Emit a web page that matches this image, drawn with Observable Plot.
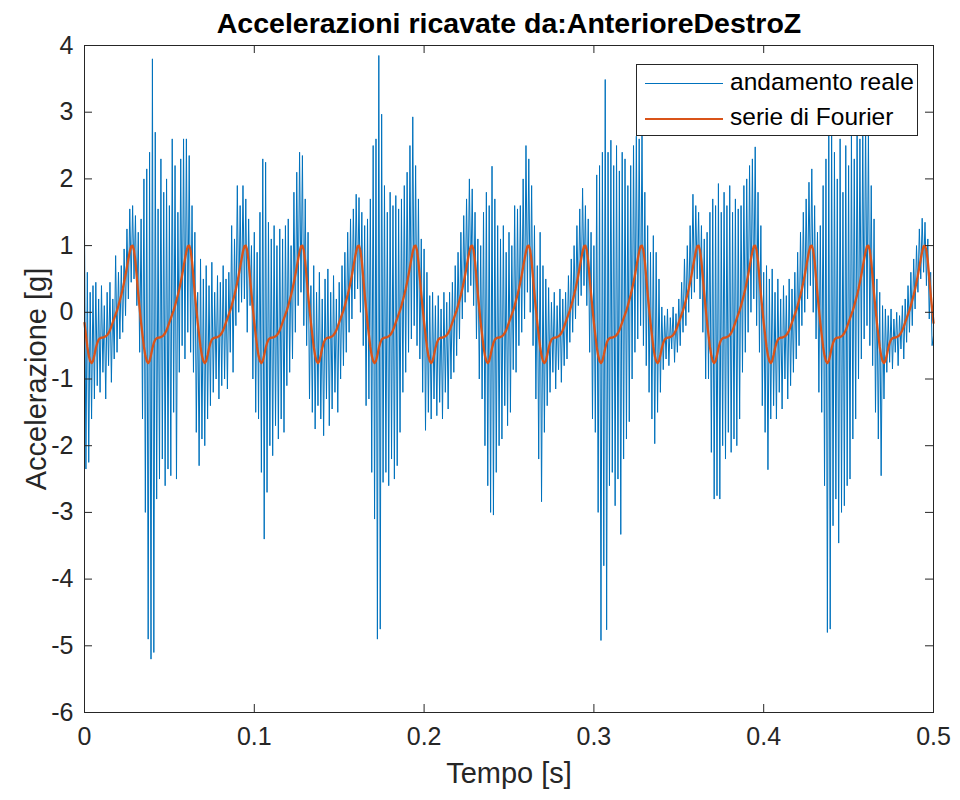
<!DOCTYPE html>
<html>
<head>
<meta charset="utf-8">
<script src="https://cdn.jsdelivr.net/npm/d3@7"></script>
<script src="https://cdn.jsdelivr.net/npm/@observablehq/plot@0.6"></script>
<style>
  html, body { margin: 0; padding: 0; background: #fff; }
  #wrap { position: relative; width: 960px; height: 800px; font-family: "Liberation Sans", Arial, Helvetica, sans-serif; }
  #legend { position: absolute; left: 636px; top: 64px; width: 282px; height: 72px; box-sizing: border-box;
            background: #fff; border: 1px solid #262626; color: #000; font-size: 24.5px; }
  .row { position: absolute; left: 0; height: 30px; width: 100%; }
  .sw { position: absolute; left: 8px; width: 78px; top: 50%; }
  .lab { position: absolute; left: 93px; top: 50%; transform: translateY(-52%); white-space: nowrap; line-height: 1; }
</style>
</head>
<body>
<div id="wrap">
  <div id="chart"></div>
  <div id="legend"></div>
</div>
<script>
// ---- Data ----
const title = "Accelerazioni ricavate da:AnterioreDestroZ";
const xLabel = "Tempo [s]";
const yLabel = "Accelerazione [g]";
const seriesNames = ["andamento reale", "serie di Fourier"];
const seriesColors = ["#0072BD", "#D95319"];
const xTicks = [0, 0.1, 0.2, 0.3, 0.4, 0.5];
const yTicks = [-6, -5, -4, -3, -2, -1, 0, 1, 2, 3, 4];
const sampleRate = 1200; // samples per second

// measured signal ("andamento reale"), one row per 1/30 s
const realValues = [
  1.25,-2.35,0.6,-2.25,0.3,-1.6,0.4,-1.3,0.45,-1.1,0.2,-1.2,0.4,-0.9,0.1,-1.3,0.3,-0.8,0.45,-1.05,0.2,-0.7,0.85,-0.6,0.6,-0.4,0.7,-0.3,0.95,-0.05,1.25,0.2,1.55,0.45,1.6,0.5,1.45,0.1,1.2,-0.6,
  1.4,-1.6,2.0,-3.0,2.15,-4.9,2.4,-5.2,3.8,-5.1,2.7,-2.8,1.55,-2.5,2.3,-2.2,1.8,-2.6,2.0,-2.35,1.6,-2.45,2.6,-1.5,2.2,-2.5,1.5,-0.9,2.3,-0.5,2.6,-0.7,2.6,-0.3,2.35,-0.6,1.6,-0.9,1.2,-1.8,
  0.3,-2.3,0.8,-1.9,0.5,-2.0,0.7,-1.6,0.4,-1.4,0.75,-1.2,0.3,-1.0,0.55,-1.3,0.45,-1.1,0.7,-1.0,0.5,-1.15,0.6,-0.6,1.3,-0.9,1.1,-0.2,1.9,0.0,1.6,0.15,1.9,0.2,1.7,-0.3,1.4,0.1,1.0,-1.0,
  1.2,-1.5,0.9,-1.6,1.5,-2.4,2.3,-3.4,2.25,-2.7,1.35,-2.0,1.1,-2.15,1.3,-1.7,1.0,-1.9,1.25,-1.6,1.1,-1.8,1.3,-1.1,1.4,-0.9,1.0,-0.7,1.8,-0.3,2.1,0.1,2.4,0.3,2.35,-0.2,1.7,-0.5,1.2,-1.3,
  0.4,-1.5,0.7,-1.75,0.3,-1.4,0.6,-1.6,0.2,-1.85,0.5,-1.3,0.65,-1.7,0.3,-1.45,0.55,-1.2,0.2,-1.5,0.45,-1.0,0.7,-0.8,0.9,-0.6,1.2,-0.3,1.4,-0.1,1.55,0.2,1.77,0.35,1.72,0.0,1.5,-0.5,1.3,-1.4,
  1.4,-1.3,1.7,-2.4,2.5,-3.1,2.6,-4.9,3.85,-4.75,2.97,-2.55,1.9,-2.4,1.5,-2.6,1.8,-2.2,1.6,-2.5,1.75,-2.3,1.55,-1.8,1.7,-1.2,1.9,-0.9,2.1,-0.6,2.5,-0.4,2.93,-0.2,2.2,-0.5,1.7,-0.7,1.1,-1.2,
  0.95,-1.77,0.6,-1.5,0.25,-1.6,0.3,-1.3,0.1,-1.55,0.25,-1.35,0.05,-1.6,0.3,-1.2,0.15,-1.45,0.3,-1.0,0.45,-0.9,0.7,-0.65,0.9,-0.4,1.2,-0.1,1.45,0.15,1.7,0.3,2.0,0.4,1.85,0.1,1.5,-0.4,1.1,-1.0,
  1.0,-1.3,1.5,-2.0,1.8,-2.6,1.6,-3.0,2.19,-3.04,1.7,-2.4,1.3,-2.0,1.1,-1.9,1.3,-1.4,0.9,-1.7,1.2,-1.5,1.0,-0.86,1.6,-0.9,1.55,-0.5,1.6,-0.3,2.0,-0.1,2.5,0.3,2.3,0.0,1.9,-0.5,1.3,-1.3,
  0.7,-2.2,1.2,-2.84,0.7,-1.8,0.5,-1.4,0.37,-1.2,0.15,-0.9,0.3,-1.15,0.1,-0.86,0.35,-1.05,0.2,-0.8,0.3,-0.7,0.55,-0.45,0.8,-0.3,1.0,-0.1,1.3,0.1,1.55,0.25,1.86,0.4,1.6,0.1,1.4,-0.6,1.2,-1.6,
  1.0,-1.8,2.06,-3.0,2.2,-4.92,2.4,-3.8,3.49,-4.76,2.4,-2.6,2.58,-2.4,2.2,-2.9,2.5,-2.5,2.12,-3.33,2.4,-2.2,2.3,-1.9,1.9,-1.64,2.2,-1.0,2.5,-0.6,2.64,-0.4,2.6,-0.2,2.77,-0.5,1.8,-0.8,1.3,-1.2,
  0.9,-1.6,1.15,-1.97,0.9,-1.5,0.5,-1.2,0.08,-0.86,-0.05,-0.7,0.05,-0.8,-0.08,-0.55,0.08,-0.75,-0.02,-0.6,0.2,-0.5,0.45,-0.3,0.8,-0.2,1.0,0.0,1.3,0.2,1.77,0.3,1.6,0.5,1.5,0.2,1.3,-0.3,1.1,-1.0,
  1.2,-1.0,1.5,-2.1,1.7,-2.8,1.6,-2.75,1.93,-2.8,1.5,-2.0,1.8,-2.2,1.6,-1.8,1.9,-2.1,1.5,-1.9,1.7,-2.0,1.55,-1.6,1.6,-0.9,1.9,-0.6,2.0,-0.3,2.2,0.0,2.3,0.2,2.48,-0.2,1.8,-0.6,1.3,-1.4,
  0.6,-1.8,0.7,-2.36,0.5,-1.6,0.65,-1.4,0.3,-1.6,0.5,-1.2,0.2,-1.45,0.4,-1.0,0.25,-1.3,0.5,-1.1,0.35,-0.9,0.6,-0.7,0.9,-0.5,1.2,-0.2,1.5,0.0,1.7,0.2,1.95,0.4,2.15,0.0,1.6,-0.4,1.2,-1.2,
  1.3,-1.5,1.9,-2.6,2.3,-4.8,2.75,-4.75,2.9,-3.2,2.4,-2.8,2.0,-3.46,2.6,-3.0,1.8,-2.9,2.5,-2.6,2.2,-2.5,2.7,-1.9,2.3,-1.6,2.8,-1.0,2.6,-0.7,2.75,-0.4,2.9,-0.2,2.7,-0.5,1.9,-0.8,1.4,-1.5,
  0.5,-1.9,0.3,-2.45,0.1,-1.3,0.05,-0.9,-0.05,-0.75,0.05,-0.85,-0.1,-0.6,0.0,-0.8,-0.05,-0.55,0.1,-0.7,0.2,-0.45,0.4,-0.3,0.6,-0.2,0.8,0.05,1.0,0.3,1.25,0.5,1.41,0.6,1.35,0.4,1.1,-0.1,0.6,-0.5,
  -0.35
];

// Fourier series approximation ("serie di Fourier"), same sampling
const fourierValues = [
  -0.16,-0.34,-0.52,-0.65,-0.73,-0.76,-0.73,-0.64,-0.54,-0.46,-0.41,-0.39,-0.38,-0.38,-0.37,-0.36,-0.34,-0.31,-0.27,-0.21,-0.15,-0.09,-0.03,0.03,0.1,0.18,0.26,0.35,0.45,0.56,0.68,0.8,0.91,0.99,1.0,0.93,0.76,0.52,0.27,0.06,
  -0.16,-0.34,-0.52,-0.65,-0.73,-0.76,-0.73,-0.64,-0.54,-0.46,-0.41,-0.39,-0.38,-0.38,-0.37,-0.36,-0.34,-0.31,-0.27,-0.21,-0.15,-0.09,-0.03,0.03,0.1,0.18,0.26,0.35,0.45,0.56,0.68,0.8,0.91,0.99,1.0,0.93,0.76,0.52,0.27,0.06,
  -0.16,-0.34,-0.52,-0.65,-0.73,-0.76,-0.73,-0.64,-0.54,-0.46,-0.41,-0.39,-0.38,-0.38,-0.37,-0.36,-0.34,-0.31,-0.27,-0.21,-0.15,-0.09,-0.03,0.03,0.1,0.18,0.26,0.35,0.45,0.56,0.68,0.8,0.91,0.99,1.0,0.93,0.76,0.52,0.27,0.06,
  -0.16,-0.34,-0.52,-0.65,-0.73,-0.76,-0.73,-0.64,-0.54,-0.46,-0.41,-0.39,-0.38,-0.38,-0.37,-0.36,-0.34,-0.31,-0.27,-0.21,-0.15,-0.09,-0.03,0.03,0.1,0.18,0.26,0.35,0.45,0.56,0.68,0.8,0.91,0.99,1.0,0.93,0.76,0.52,0.27,0.06,
  -0.16,-0.34,-0.52,-0.65,-0.73,-0.76,-0.73,-0.64,-0.54,-0.46,-0.41,-0.39,-0.38,-0.38,-0.37,-0.36,-0.34,-0.31,-0.27,-0.21,-0.15,-0.09,-0.03,0.03,0.1,0.18,0.26,0.35,0.45,0.56,0.68,0.8,0.91,0.99,1.0,0.93,0.76,0.52,0.27,0.06,
  -0.16,-0.34,-0.52,-0.65,-0.73,-0.76,-0.73,-0.64,-0.54,-0.46,-0.41,-0.39,-0.38,-0.38,-0.37,-0.36,-0.34,-0.31,-0.27,-0.21,-0.15,-0.09,-0.03,0.03,0.1,0.18,0.26,0.35,0.45,0.56,0.68,0.8,0.91,0.99,1.0,0.93,0.76,0.52,0.27,0.06,
  -0.16,-0.34,-0.52,-0.65,-0.73,-0.76,-0.73,-0.64,-0.54,-0.46,-0.41,-0.39,-0.38,-0.38,-0.37,-0.36,-0.34,-0.31,-0.27,-0.21,-0.15,-0.09,-0.03,0.03,0.1,0.18,0.26,0.35,0.45,0.56,0.68,0.8,0.91,0.99,1.0,0.93,0.76,0.52,0.27,0.06,
  -0.16,-0.34,-0.52,-0.65,-0.73,-0.76,-0.73,-0.64,-0.54,-0.46,-0.41,-0.39,-0.38,-0.38,-0.37,-0.36,-0.34,-0.31,-0.27,-0.21,-0.15,-0.09,-0.03,0.03,0.1,0.18,0.26,0.35,0.45,0.56,0.68,0.8,0.91,0.99,1.0,0.93,0.76,0.52,0.27,0.06,
  -0.16,-0.34,-0.52,-0.65,-0.73,-0.76,-0.73,-0.64,-0.54,-0.46,-0.41,-0.39,-0.38,-0.38,-0.37,-0.36,-0.34,-0.31,-0.27,-0.21,-0.15,-0.09,-0.03,0.03,0.1,0.18,0.26,0.35,0.45,0.56,0.68,0.8,0.91,0.99,1.0,0.93,0.76,0.52,0.27,0.06,
  -0.16,-0.34,-0.52,-0.65,-0.73,-0.76,-0.73,-0.64,-0.54,-0.46,-0.41,-0.39,-0.38,-0.38,-0.37,-0.36,-0.34,-0.31,-0.27,-0.21,-0.15,-0.09,-0.03,0.03,0.1,0.18,0.26,0.35,0.45,0.56,0.68,0.8,0.91,0.99,1.0,0.93,0.76,0.52,0.27,0.06,
  -0.16,-0.34,-0.52,-0.65,-0.73,-0.76,-0.73,-0.64,-0.54,-0.46,-0.41,-0.39,-0.38,-0.38,-0.37,-0.36,-0.34,-0.31,-0.27,-0.21,-0.15,-0.09,-0.03,0.03,0.1,0.18,0.26,0.35,0.45,0.56,0.68,0.8,0.91,0.99,1.0,0.93,0.76,0.52,0.27,0.06,
  -0.16,-0.34,-0.52,-0.65,-0.73,-0.76,-0.73,-0.64,-0.54,-0.46,-0.41,-0.39,-0.38,-0.38,-0.37,-0.36,-0.34,-0.31,-0.27,-0.21,-0.15,-0.09,-0.03,0.03,0.1,0.18,0.26,0.35,0.45,0.56,0.68,0.8,0.91,0.99,1.0,0.93,0.76,0.52,0.27,0.06,
  -0.16,-0.34,-0.52,-0.65,-0.73,-0.76,-0.73,-0.64,-0.54,-0.46,-0.41,-0.39,-0.38,-0.38,-0.37,-0.36,-0.34,-0.31,-0.27,-0.21,-0.15,-0.09,-0.03,0.03,0.1,0.18,0.26,0.35,0.45,0.56,0.68,0.8,0.91,0.99,1.0,0.93,0.76,0.52,0.27,0.06,
  -0.16,-0.34,-0.52,-0.65,-0.73,-0.76,-0.73,-0.64,-0.54,-0.46,-0.41,-0.39,-0.38,-0.38,-0.37,-0.36,-0.34,-0.31,-0.27,-0.21,-0.15,-0.09,-0.03,0.03,0.1,0.18,0.26,0.35,0.45,0.56,0.68,0.8,0.91,0.99,1.0,0.93,0.76,0.52,0.27,0.06,
  -0.16,-0.34,-0.52,-0.65,-0.73,-0.76,-0.73,-0.64,-0.54,-0.46,-0.41,-0.39,-0.38,-0.38,-0.37,-0.36,-0.34,-0.31,-0.27,-0.21,-0.15,-0.09,-0.03,0.03,0.1,0.18,0.26,0.35,0.45,0.56,0.68,0.8,0.91,0.99,1.0,0.93,0.76,0.52,0.27,0.06,
  -0.16
];

// ---- Build tables ----
const realData = realValues.map((v, i) => ({t: i / sampleRate, v}));
const fourierData = fourierValues.map((v, i) => ({t: i / sampleRate, v}));

const W = 960, H = 800;
const mL = 84, mR = 27, mT = 45, mB = 88;
const plotW = W - mL - mR, plotH = H - mT - mB;
const tickLen = 8;
const ink = "#262626";
const fmt = d => String(d);

const chart = Plot.plot({
  width: W, height: H,
  marginLeft: mL, marginRight: mR, marginTop: mT, marginBottom: mB,
  style: {fontFamily: '"Liberation Sans", Arial, Helvetica, sans-serif', background: "#fff", color: ink, overflow: "visible"},
  x: {domain: [0, 0.5], label: null},
  y: {domain: [-6, 4], label: null},
  marks: [
    Plot.line(realData, {x: "t", y: "v", stroke: seriesColors[0], strokeWidth: 1}),
    Plot.line(fourierData, {x: "t", y: "v", stroke: seriesColors[1], strokeWidth: 2.3, strokeLinejoin: "round"}),
    Plot.frame({stroke: ink, strokeWidth: 1}),
    Plot.tickX(xTicks, {x: d => d, stroke: ink, insetTop: plotH - tickLen}),
    Plot.tickX(xTicks, {x: d => d, stroke: ink, insetBottom: plotH - tickLen}),
    Plot.tickY(yTicks, {y: d => d, stroke: ink, insetRight: plotW - tickLen}),
    Plot.tickY(yTicks, {y: d => d, stroke: ink, insetLeft: plotW - tickLen}),
    Plot.axisX({ticks: xTicks, tickSize: 0, tickPadding: 15, fontSize: 25, tickFormat: fmt, label: null}),
    Plot.axisY({ticks: yTicks, tickSize: 0, tickPadding: 11, fontSize: 25, tickFormat: fmt, label: null}),
    Plot.text([xLabel], {text: d => d, frameAnchor: "bottom", dy: 70, fontSize: 29, fill: ink}),
    Plot.text([yLabel], {text: d => d, frameAnchor: "left", textAnchor: "middle", dx: -48, rotate: -90, fontSize: 29, fill: ink}),
    Plot.text([title], {text: d => d, frameAnchor: "top", textAnchor: "middle", dy: -33, fontSize: 28.5, fontWeight: "bold", fill: "#000"})
  ]
});
document.getElementById("chart").appendChild(chart);

// legend (drawn over the plot, top right, like the original)
const legend = document.getElementById("legend");
seriesNames.forEach((name, i) => {
  const row = document.createElement("div");
  row.className = "row";
  row.style.top = (i === 0 ? 3 : 38) + "px";
  const sw = document.createElement("div");
  sw.className = "sw";
  sw.style.borderTop = (i === 0 ? 1 : 2.5) + "px solid " + seriesColors[i];
  const lab = document.createElement("div");
  lab.className = "lab";
  lab.textContent = name;
  row.appendChild(sw);
  row.appendChild(lab);
  legend.appendChild(row);
});
</script>
</body>
</html>
